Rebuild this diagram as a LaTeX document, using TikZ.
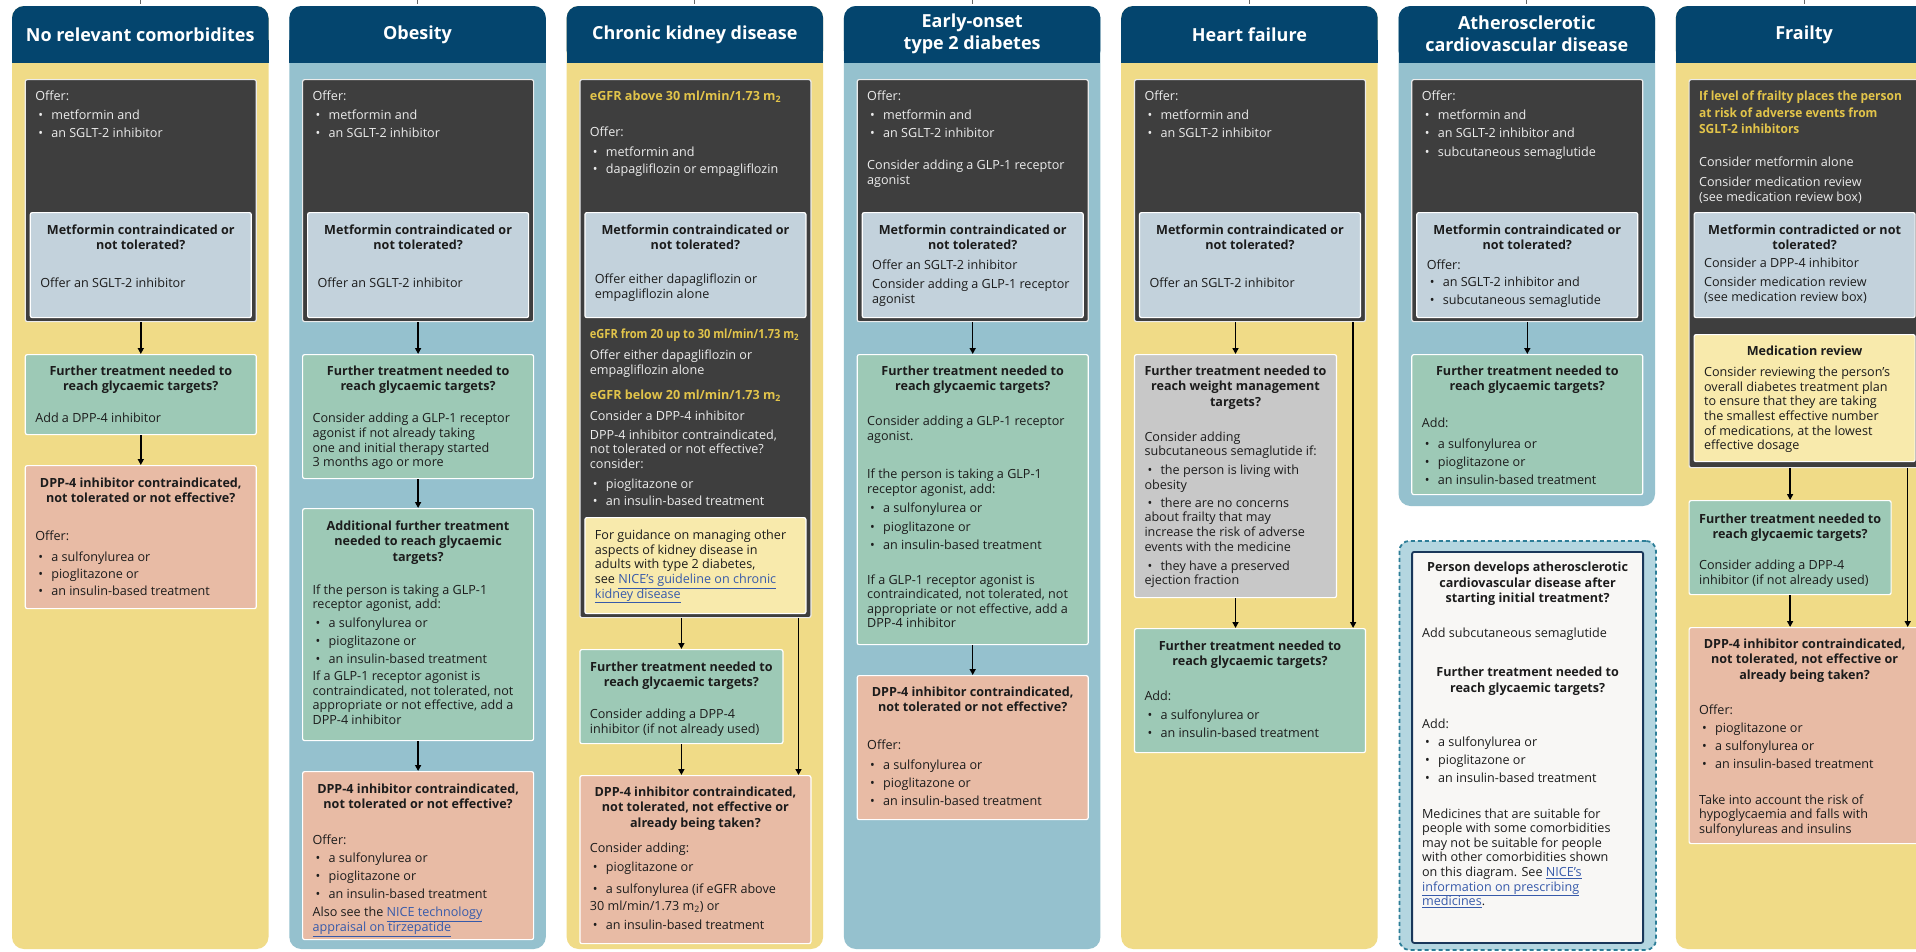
\documentclass[tikz,border=0pt]{standalone}
\usepackage{fontspec}
\setmainfont{Open Sans}
\usetikzlibrary{arrows.meta,calc}
\definecolor{navy}{RGB}{4,69,110}
\definecolor{colY}{RGB}{240,219,135}
\definecolor{colB}{RGB}{149,193,206}
\definecolor{darkc}{RGB}{62,62,62}
\definecolor{lblue}{RGB}{195,210,220}
\definecolor{grn}{RGB}{157,201,182}
\definecolor{slm}{RGB}{232,187,165}
\definecolor{gry}{RGB}{200,200,200}
\definecolor{notec}{RGB}{248,234,172}
\definecolor{dashfill}{RGB}{180,214,224}
\definecolor{dashln}{RGB}{45,126,152}
\definecolor{wbox}{RGB}{248,247,245}
\definecolor{wline}{RGB}{25,55,90}
\definecolor{gold}{RGB}{226,196,74}
\definecolor{txt}{RGB}{28,28,28}
\definecolor{lnk}{RGB}{55,90,170}
\definecolor{ltxt}{RGB}{236,236,236}
\newcommand\bodyfont{\fontsize{12.6}{14.6}\selectfont\lineskiplimit=-30pt\relax}
\newcommand\fl[1]{\rule{0pt}{#1pt}}
\newcommand\gap[1]{\par\vspace{\dimexpr#1pt-14.6pt\relax}}
\newcommand\hd[1]{{\centering\bfseries\fontsize{12.6}{15.2}\selectfont\lineskiplimit=-30pt #1\par}}
\newcommand\itm[2][18]{\par\vspace{\dimexpr#1pt-14.6pt\relax}{\hangindent=16pt\hangafter=1\noindent\hbox to 16pt{\hspace{3pt}\textbullet\hss}#2\par}}
\newcommand\ylw{\color{gold}\bfseries}
\newcommand\ylwl[2][0.95]{\scalebox{#1}[1]{\ylw #2}}
\newcommand\lk[1]{{\color{lnk}\underline{#1}}}
\newcommand\bx[7]{\node[#2, anchor=north west, minimum width=#5pt, minimum height=#6pt, inner sep=0pt] (#1) at (#3,#4) {\begin{minipage}[c][#6pt][t]{\dimexpr#5pt-20pt\relax}\bodyfont\raggedright #7\end{minipage}};}
\newcommand\colbg[3]{%
  \fill[#2, rounded corners=12pt] (#1,6) rectangle ++(256.5,#3);
  \fill[navy, rounded corners=12pt] (#1,6) rectangle ++(256.5,56.5);
  \fill[navy] (#1,40) rectangle ++(256.5,22.5);}
\tikzset{
  darkbox/.style={fill=darkc, draw=white!92!black, line width=1.2pt, rounded corners=2pt, text=ltxt},
  lbbox/.style={fill=lblue, draw=white, line width=1.2pt, rounded corners=2pt, text=txt},
  grnbox/.style={fill=grn, draw=white, line width=1.2pt, rounded corners=2pt, text=txt},
  slmbox/.style={fill=slm, draw=white, line width=1.2pt, rounded corners=2pt, text=txt},
  grybox/.style={fill=gry, draw=white, line width=1.2pt, rounded corners=2pt, text=txt},
  notebox/.style={fill=notec, draw=white, line width=1.2pt, rounded corners=2pt, text=txt},
  whitebox/.style={fill=wbox, draw=wline, line width=1.8pt, rounded corners=2pt, text=txt},
  dashbox/.style={fill=dashfill, draw=dashln, line width=1.8pt, dash pattern=on 4pt off 3pt, rounded corners=10pt},
  hdr/.style={text=white, font=\bfseries\fontsize{18}{22}\selectfont, align=center, inner sep=0pt},
  arr/.style={-{Triangle[length=6pt,width=6pt]}, line width=1.5pt, black},
  tick/.style={line width=0.8pt, black!60}
}
\begin{document}
\begin{tikzpicture}[x=1pt,y=-1pt]
\useasboundingbox (0,0) rectangle (1916,951);
\fill[white] (0,0) rectangle (1916,951);
% columns
\colbg{12}{colY}{943}
\colbg{289.3}{colB}{943}
\colbg{566.6}{colY}{943}
\colbg{843.9}{colB}{943}
\colbg{1121.2}{colY}{943}
\colbg{1398.5}{colB}{500}
\colbg{1675.8}{colY}{943}
\foreach \cx in {140.25,417.55,694.85,972.15,1249.45,1526.75,1804.05} {\draw[tick] (\cx,0) -- (\cx,4);}
% headers
\node[hdr] (h1) at (140.25,34.5) {No relevant comorbidites};
\node[hdr] (h2) at (417.55,34.5) {Obesity};
\node[hdr] (h3) at (694.85,34.5) {Chronic kidney disease};
\node[hdr] (h4) at (972.15,34) {Early-onset\\type 2 diabetes};
\node[hdr] (h5) at (1249.45,34.5) {Heart failure};
\node[hdr] (h6) at (1526.75,34) {Atherosclerotic\\cardiovascular disease};
\node[hdr] (h7) at (1804.05,34.5) {Frailty};

% ---------- column 1
\bx{d1}{darkbox}{24.7}{79}{231}{242}{\fl{21}Offer:\itm[19]{metformin and}\itm{an SGLT-2 inhibitor}}
\bx{m1}{lbbox}{29.7}{212}{221}{105}{\hd{\fl{22}Metformin contraindicated or\\not tolerated?}\gap{38}Offer an SGLT-2 inhibitor}
\bx{g1}{grnbox}{24.7}{354}{231}{80}{\hd{\fl{21}Further treatment needed to\\reach glycaemic targets?}\gap{32}Add a DPP-4 inhibitor}
\bx{s1}{slmbox}{24.7}{465}{231}{143}{\hd{\fl{22}DPP-4 inhibitor contraindicated,\\not tolerated or not effective?}\gap{38}Offer:\itm[21]{a sulfonylurea or}\itm[17]{pioglitazone or}\itm[17]{an insulin-based treatment}}
\draw[arr] (d1.south) -- (g1.north);
\draw[arr] (g1.south) -- (s1.north);

% ---------- column 2
\bx{d2}{darkbox}{302}{79}{231}{242}{\fl{21}Offer:\itm[19]{metformin and}\itm{an SGLT-2 inhibitor}}
\bx{m2}{lbbox}{307}{212}{221}{105}{\hd{\fl{22}Metformin contraindicated or\\not tolerated?}\gap{38}Offer an SGLT-2 inhibitor}
\bx{g2}{grnbox}{302}{354}{231}{124}{\hd{\fl{21}Further treatment needed to\\reach glycaemic targets?}\gap{32}Consider adding a GLP-1 receptor\\agonist if not already taking\\one and initial therapy started\\3 months ago or more}
\bx{a2}{grnbox}{302}{508}{231}{232}{\hd{\fl{22}Additional further treatment\\needed to reach glycaemic\\targets?}\gap{33}If the person is taking a GLP-1\\receptor agonist, add:\itm[19]{a sulfonylurea or}\itm{pioglitazone or}\itm{an insulin-based treatment}\gap{17}If a GLP-1 receptor agonist is\\contraindicated, not tolerated, not\\appropriate or not effective, add a\\DPP-4 inhibitor}
\bx{s2}{slmbox}{302}{771}{231}{168}{\hd{\fl{22}DPP-4 inhibitor contraindicated,\\not tolerated or not effective?}\gap{36}Offer:\itm{a sulfonylurea or}\itm{pioglitazone or}\itm{an insulin-based treatment}\gap{18}Also see the \lk{NICE technology}\\\lk{appraisal on tirzepatide}}
\draw[arr] (d2.south) -- (g2.north);
\draw[arr] (g2.south) -- (a2.north);
\draw[arr] (a2.south) -- (s2.north);

% ---------- column 3
\bx{d3}{darkbox}{579.3}{79}{231}{538}{\fl{21}{\ylw eGFR above 30 ml/min/1.73 m\textsubscript{2}}\gap{36}Offer:\itm[20]{metformin and}\itm[17]{dapagliflozin or empagliflozin}\gap{165}\ylwl[0.88]{eGFR from 20 up to 30 ml/min/1.73 m\textsubscript{2}}\gap{21}Offer either dapagliflozin or\\empagliflozin alone\gap{25}{\ylw eGFR below 20 ml/min/1.73 m\textsubscript{2}}\gap{21}Consider a DPP-4 inhibitor\gap{19}DPP-4 inhibitor contraindicated,\\not tolerated or not effective?\\consider:\itm[20]{pioglitazone or}\itm[17]{an insulin-based treatment}}
\bx{m3}{lbbox}{584.3}{212}{221}{105}{\hd{\fl{22}Metformin contraindicated or\\not tolerated?}\gap{34}Offer either dapagliflozin or\\empagliflozin alone}
\bx{n3}{notebox}{584.3}{517}{221}{96}{\fl{22}For guidance on managing other\\aspects of kidney disease in\\adults with type 2 diabetes,\\see \lk{NICE's guideline on chronic}\\\lk{kidney disease}}
\bx{g3}{grnbox}{579.3}{649}{203}{94}{\hd{\fl{22}Further treatment needed to\\reach glycaemic targets?}\gap{32}Consider adding a DPP-4\\inhibitor (if not already used)}
\bx{s3}{slmbox}{579.3}{775}{231}{168}{\hd{\fl{21}DPP-4 inhibitor contraindicated,\\not tolerated, not effective or\\already being taken?}\gap{25}Consider adding:\itm[19]{pioglitazone or}\itm[22]{a sulfonylurea (if eGFR above\\[3pt]30 ml/min/1.73 m\textsubscript{2}) or}\itm[19]{an insulin-based treatment}}
\coordinate (r3) at ($(d3.south east)+(-13,0)$);
\draw[arr] (d3.south -| g3.north) -- (g3.north);
\draw[arr] (g3.south) -- (g3.south |- s3.north);
\draw[arr] (r3) -- (r3 |- s3.north);

% ---------- column 4
\bx{d4}{darkbox}{856.6}{79}{231}{242}{\fl{21}Offer:\itm[19]{metformin and}\itm{an SGLT-2 inhibitor}\gap{32}Consider adding a GLP-1 receptor\\agonist}
\bx{m4}{lbbox}{861.6}{212}{221}{105}{\hd{\fl{22}Metformin contraindicated or\\not tolerated?}\gap{20}Offer an SGLT-2 inhibitor\gap{19}Consider adding a GLP-1 receptor\\agonist}
\bx{g4}{grnbox}{856.6}{354}{231}{290}{\hd{\fl{21}Further treatment needed to\\reach glycaemic targets?}\gap{35}Consider adding a GLP-1 receptor\\agonist.\gap{38}If the person is taking a GLP-1\\receptor agonist, add:\itm[19]{a sulfonylurea or}\itm[19]{pioglitazone or}\itm{an insulin-based treatment}\gap{35}If a GLP-1 receptor agonist is\\contraindicated, not tolerated, not\\appropriate or not effective, add a\\DPP-4 inhibitor}
\bx{s4}{slmbox}{856.6}{675}{231}{144}{\hd{\fl{21}DPP-4 inhibitor contraindicated,\\not tolerated or not effective?}\gap{38}Offer:\itm[20]{a sulfonylurea or}\itm{pioglitazone or}\itm{an insulin-based treatment}}
\draw[arr] (d4.south) -- (g4.north);
\draw[arr] (g4.south) -- (s4.north);

% ---------- column 5
\bx{d5}{darkbox}{1133.9}{79}{231}{242}{\fl{21}Offer:\itm[19]{metformin and}\itm{an SGLT-2 inhibitor}}
\bx{m5}{lbbox}{1138.9}{212}{221}{105}{\hd{\fl{22}Metformin contraindicated or\\not tolerated?}\gap{38}Offer an SGLT-2 inhibitor}
\bx{w5}{grybox}{1133.9}{354}{202}{243}{\hd{\fl{21}Further treatment needed to\\reach weight management\\targets?}\gap{35}Consider adding\\subcutaneous semaglutide if:\itm[19]{the person is living with\\obesity}\itm{there are no concerns\\about frailty that may\\increase the risk of adverse\\events with the medicine}\itm[19]{they have a preserved\\ejection fraction}}
\bx{g5}{grnbox}{1133.9}{628}{231}{124}{\hd{\fl{22}Further treatment needed to\\reach glycaemic targets?}\gap{35}Add:\itm[19]{a sulfonylurea or}\itm{an insulin-based treatment}}
\coordinate (r5) at ($(d5.south east)+(-13,0)$);
\draw[arr] (d5.south -| w5.north) -- (w5.north);
\draw[arr] (w5.south) -- (w5.south |- g5.north);
\draw[arr] (r5) -- (r5 |- g5.north);

% ---------- column 6
\bx{d6}{darkbox}{1411.2}{79}{231}{242}{\fl{21}Offer:\itm[19]{metformin and}\itm{an SGLT-2 inhibitor and}\itm[19]{subcutaneous semaglutide}}
\bx{m6}{lbbox}{1416.2}{212}{221}{105}{\hd{\fl{22}Metformin contraindicated or\\not tolerated?}\gap{20}Offer:\itm[17]{an SGLT-2 inhibitor and}\itm{subcutaneous semaglutide}}
\bx{g6}{grnbox}{1411.2}{354}{231}{140}{\hd{\fl{21}Further treatment needed to\\reach glycaemic targets?}\gap{37}Add:\itm[21]{a sulfonylurea or}\itm{pioglitazone or}\itm{an insulin-based treatment}}
\draw[arr] (d6.south) -- (g6.north);
\node[dashbox, anchor=north west, minimum width=256.5pt, minimum height=409pt, inner sep=0pt] (x6) at (1398.5,540) {};
\bx{w6}{whitebox}{1411.2}{551}{231}{391}{\hd{\fl{20}Person develops atherosclerotic\\cardiovascular disease after\\starting initial treatment?}\gap{35}Add subcutaneous semaglutide\gap{39}\hd{Further treatment needed to\\reach glycaemic targets?}\gap{36}Add:\itm{a sulfonylurea or}\itm{pioglitazone or}\itm{an insulin-based treatment}\gap{36}Medicines that are suitable for\\people with some comorbidities\\may not be suitable for people\\with other comorbidities shown\\on this diagram. See \lk{NICE's}\\\lk{information on prescribing}\\\lk{medicines}.}

% ---------- column 7
\bx{d7}{darkbox}{1688.5}{79}{231}{388}{\fl{21}\ylwl{If level of frailty places the person}\\[2pt]\ylwl{at risk of adverse events from}\\[2pt]\ylwl{SGLT-2 inhibitors}\gap{33}Consider metformin alone\gap{20}Consider medication review\\(see medication review box)}
\bx{m7}{lbbox}{1693.5}{212}{221}{105}{\hd{\fl{22}Metformin contradicted or not\\tolerated?}\gap{18}Consider a DPP-4 inhibitor\gap{19}Consider medication review\\(see medication review box)}
\bx{r7}{notebox}{1693.5}{334}{221}{127}{\hd{\fl{21}Medication review}\gap{21}Consider reviewing the person's\\overall diabetes treatment plan\\to ensure that they are taking\\the smallest effective number\\of medications, at the lowest\\effective dosage}
\bx{g7}{grnbox}{1688.5}{500}{202}{94}{\hd{\fl{23}Further treatment needed to\\reach glycaemic targets?}\gap{31}Consider adding a DPP-4\\inhibitor (if not already used)}
\bx{s7}{slmbox}{1688.5}{627}{231}{216}{\hd{\fl{21}DPP-4 inhibitor contraindicated,\\not tolerated, not effective or\\already being taken?}\gap{35}Offer:\itm{pioglitazone or}\itm{a sulfonylurea or}\itm{an insulin-based treatment}\gap{36}Take into account the risk of\\hypoglycaemia and falls with\\sulfonylureas and insulins}
\coordinate (r7c) at ($(d7.south east)+(-13,0)$);
\draw[arr] (d7.south -| g7.north) -- (g7.north);
\draw[arr] (g7.south) -- (g7.south |- s7.north);
\draw[arr] (r7c) -- (r7c |- s7.north);
\end{tikzpicture}
\end{document}
